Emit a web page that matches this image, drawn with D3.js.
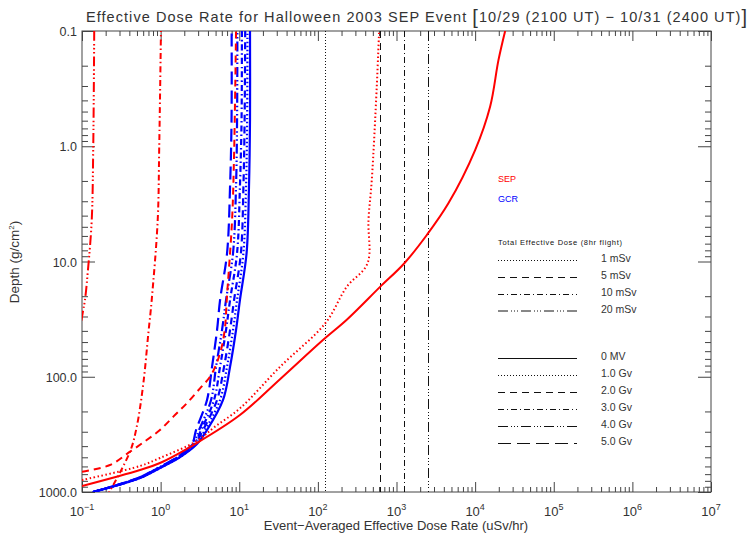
<!DOCTYPE html>
<html>
<head>
<meta charset="utf-8">
<script src="https://cdn.jsdelivr.net/npm/d3@7"></script>
<style>
body { margin: 0; background: #fff; }
text { font-family: "Liberation Sans", "DejaVu Sans", sans-serif; fill: #333; }
</style>
</head>
<body>
<div id="chart"></div>
<script>
// SEP curves (red): event-averaged dose rate (uSv/hr) vs depth (g/cm2), by cutoff rigidity
var sep0mvDose   = [0.1, 0.547, 0.98, 2.88, 10.2, 33, 116, 233, 618, 1250, 2430, 4570, 10000, 15500, 19800, 24100];
var sep0mvDepth  = [887, 644, 560, 376, 215, 105, 48, 32, 16.6, 10.4, 5.89, 3.13, 1.08, 0.454, 0.179, 0.1];
var sep1gvDose   = [0.1, 0.547, 0.98, 2.88, 4.92, 10.2, 33, 124, 233, 427, 440, 485, 561, 601];
var sep1gvDepth  = [787, 595, 507, 361, 271, 188, 82, 34.4, 16.6, 10.4, 4.36, 1.96, 0.304, 0.1];
var sep2gvDose   = [0.1, 0.227, 0.408, 0.665, 0.98, 1.45, 2.15, 3.17, 4.25, 5.17, 5.99, 6.6, 6.93, 8.1, 8.6, 9.1];
var sep2gvDepth  = [667, 583, 447, 354, 290, 222, 170, 126, 100, 76, 55, 37, 21.6, 4.4, 1.15, 0.1];
var sep3gvDose   = [0.206, 0.408, 0.497, 0.603, 0.698, 0.77, 0.918, 0.96, 1.01];
var sep3gvDepth  = [1099, 447, 271, 114, 42, 21.6, 4.37, 1.01, 0.1];
var sep4gvDose   = [0.143, 0.139, 0.133, 0.119, 0.109, 0.102, 0.089];
var sep4gvDepth  = [0.1, 1.01, 4.37, 11.9, 21.6, 28, 48];

// GCR curves (blue), common depth grid
var gcrDepth   = [1000, 757, 619, 497, 383, 290, 159, 81.8, 39.3, 21.6, 8.44, 2.24, 0.59, 0.1];
var gcr0mvDose = [0.138, 0.547, 0.982, 1.77, 2.90, 3.89, 6.22, 7.64, 9.10, 10.2, 12.4, 13.3, 13.7, 13.7];
var gcr1gvDose = [0.138, 0.547, 0.982, 1.77, 2.82, 3.67, 5.70, 7.00, 8.34, 9.38, 11.3, 12.2, 12.6, 12.7];
var gcr2gvDose = [0.138, 0.531, 0.955, 1.71, 2.74, 3.46, 5.22, 6.41, 7.64, 8.59, 10.5, 11.3, 11.7, 11.9];
var gcr3gvDose = [0.138, 0.531, 0.955, 1.66, 2.66, 3.27, 4.78, 5.70, 6.79, 7.64, 9.38, 10.2, 10.7, 10.8];
var gcr4gvDose = [0.138, 0.515, 0.927, 1.66, 2.58, 3.08, 4.38, 5.07, 6.04, 6.79, 8.34, 9.10, 9.38, 9.46];
var gcr5gvDose = [0.138, 0.515, 0.927, 1.62, 2.51, 2.82, 3.89, 4.51, 5.22, 5.70, 7.00, 7.64, 7.98, 8.0];

// total effective dose limits for an 8hr flight, as dose rate
var limitLabels = ["1 mSv", "5 mSv", "10 mSv", "20 mSv"];
var limitRates  = [125, 625, 1250, 2500];

var rigidityLabels = ["0 MV", "1.0 Gv", "2.0 Gv", "3.0 Gv", "4.0 Gv", "5.0 Gv"];

var xTickExp    = [-1, 0, 1, 2, 3, 4, 5, 6, 7];
var yTickValues = [0.1, 1, 10, 100, 1000];
var yTickLabels = ["0.1", "1.0", "10.0", "100.0", "1000.0"];

// line styles: solid, dotted, dashed, dash-dot, dash-dot-dot-dot, long dashes
var dashes = ["none", "1.5,2.5", "7,5", "6,3,1.5,3", "10,3,1.5,2.5,1.5,2.5,1.5,3", "13,6"];
var thinDashes = ["none", "1,2", "7,5", "6,3,1,3", "10,3,1,2,1,2,1,3", "13,6"];

var W = 751, H = 533;
var L = 82, R = 711, T = 31, B = 492;
var axisColor = "#444";

var svg = d3.select("#chart").append("svg")
  .attr("width", W)
  .attr("height", H);

var x = d3.scaleLog().domain([0.1, 1e7]).range([L, R]);
var y = d3.scaleLog().domain([0.1, 1000]).range([T, B]);

svg.append("clipPath").attr("id", "plotclip")
  .append("rect")
  .attr("x", L).attr("y", T)
  .attr("width", R - L).attr("height", B - T);

function isPow10(v) {
  var l = Math.log10(v);
  return Math.abs(l - Math.round(l)) < 1e-9;
}
var xMajor = x.ticks().filter(isPow10);
var xMinor = x.ticks().filter(function(v) { return !isPow10(v); });
var yMajor = y.ticks().filter(isPow10);
var yMinor = y.ticks().filter(function(v) { return !isPow10(v); });

function tickAxis(axis, vals, size, tx, ty) {
  var g = svg.append("g")
    .attr("transform", "translate(" + tx + "," + ty + ")")
    .call(axis.tickValues(vals).tickSizeInner(-size).tickSizeOuter(0).tickFormat(""));
  g.select(".domain").remove();
  g.selectAll("line").attr("stroke", axisColor);
}
tickAxis(d3.axisBottom(x), xMajor, 10, 0, B);
tickAxis(d3.axisBottom(x), xMinor, 5, 0, B);
tickAxis(d3.axisTop(x), xMajor, 10, 0, T);
tickAxis(d3.axisTop(x), xMinor, 5, 0, T);
tickAxis(d3.axisLeft(y), yMajor, 13, L, 0);
tickAxis(d3.axisLeft(y), yMinor, 6, L, 0);
tickAxis(d3.axisRight(y), yMajor, 13, R, 0);
tickAxis(d3.axisRight(y), yMinor, 6, R, 0);

svg.append("rect")
  .attr("x", L).attr("y", T)
  .attr("width", R - L).attr("height", B - T)
  .attr("fill", "none")
  .attr("stroke", axisColor)
  .attr("stroke-width", 1);

// x tick labels 10^n
var xl = svg.selectAll(".xlab")
  .data(xTickExp)
  .enter().append("text")
  .attr("class", "xlab")
  .attr("x", function(d) { return x(Math.pow(10, d)); })
  .attr("y", 516)
  .attr("text-anchor", "middle")
  .style("font-size", "13px");
xl.append("tspan").text("10");
xl.append("tspan")
  .attr("dy", -6)
  .style("font-size", "9px")
  .text(function(d) { return d < 0 ? "\u2212" + (-d) : d; });

// y tick labels
svg.selectAll(".ylab")
  .data(yTickValues)
  .enter().append("text")
  .attr("class", "ylab")
  .attr("x", L - 5)
  .attr("y", function(d) { return y(d) + 5; })
  .attr("text-anchor", "end")
  .style("font-size", "12.5px")
  .text(function(d, i) { return yTickLabels[i]; });

// titles
var title = svg.append("text")
  .attr("x", 86)
  .attr("y", 22)
  .attr("textLength", 661)
  .attr("lengthAdjust", "spacing")
  .style("font-size", "14.5px");
title.append("tspan").text("Effective Dose Rate for Halloween 2003 SEP Event ");
title.append("tspan").style("font-size", "20px").attr("dy", 2).text("[");
title.append("tspan").attr("dy", -2).text("10/29 (2100 UT) \u2212 10/31 (2400 UT)");
title.append("tspan").style("font-size", "20px").attr("dy", 2).text("]");

svg.append("text")
  .attr("x", 396)
  .attr("y", 530)
  .attr("text-anchor", "middle")
  .style("font-size", "13px")
  .text("Event\u2212Averaged Effective Dose Rate (uSv/hr)");

var yt = svg.append("text")
  .attr("transform", "translate(19,262) rotate(-90)")
  .attr("text-anchor", "middle")
  .style("font-size", "13.5px");
yt.append("tspan").text("Depth (g/cm");
yt.append("tspan").attr("dy", -5).style("font-size", "8px").text("2");
yt.append("tspan").attr("dy", 5).text(")");

// dose limit lines
var plot = svg.append("g").attr("clip-path", "url(#plotclip)");

plot.selectAll(".limit")
  .data(limitRates)
  .enter().append("line")
  .attr("class", "limit")
  .attr("x1", function(d) { return Math.round(x(d)) + 0.5; })
  .attr("x2", function(d) { return Math.round(x(d)) + 0.5; })
  .attr("y1", T).attr("y2", B)
  .attr("stroke", "#111")
  .attr("stroke-width", 1)
  .attr("stroke-dasharray", function(d, i) { return thinDashes[i + 1]; });

var line = d3.line()
  .x(function(d) { return x(d[0]); })
  .y(function(d) { return y(d[1]); })
  .curve(d3.curveCatmullRom.alpha(0.5));

function pairs(dose, depth) {
  return dose.map(function(d, i) { return [d, depth[i]]; });
}

var gcrCurves = [gcr0mvDose, gcr1gvDose, gcr2gvDose, gcr3gvDose, gcr4gvDose, gcr5gvDose];
plot.selectAll(".gcr")
  .data(gcrCurves)
  .enter().append("path")
  .attr("class", "gcr")
  .attr("d", function(d) { return line(pairs(d, gcrDepth)); })
  .attr("fill", "none")
  .attr("stroke", "#0000ff")
  .attr("stroke-width", 2.2)
  .attr("stroke-dasharray", function(d, i) { return dashes[i]; });

var sepCurves = [
  pairs(sep0mvDose, sep0mvDepth),
  pairs(sep1gvDose, sep1gvDepth),
  pairs(sep2gvDose, sep2gvDepth),
  pairs(sep3gvDose, sep3gvDepth),
  pairs(sep4gvDose, sep4gvDepth)
];
plot.selectAll(".sep")
  .data(sepCurves)
  .enter().append("path")
  .attr("class", "sep")
  .attr("d", line)
  .attr("fill", "none")
  .attr("stroke", "#ff0000")
  .attr("stroke-width", 2)
  .attr("stroke-dasharray", function(d, i) { return dashes[i]; });

// legend
svg.append("text").attr("x", 498).attr("y", 182)
  .style("font-size", "9px").style("fill", "#ff0000").text("SEP");
svg.append("text").attr("x", 498).attr("y", 202)
  .style("font-size", "9px").style("fill", "#0000ff").text("GCR");
svg.append("text").attr("x", 498).attr("y", 245)
  .attr("textLength", 124)
  .attr("lengthAdjust", "spacing")
  .style("font-size", "7.5px").style("fill", "#111").text("Total Effective Dose (8hr flight)");

var legY1 = [258, 275, 292, 308.5];
var legY2 = [356, 373, 390, 407, 424, 441];

var lg1 = svg.selectAll(".leg1").data(limitLabels).enter().append("g").attr("class", "leg1");
lg1.append("line")
  .attr("x1", 498).attr("x2", 577)
  .attr("y1", function(d, i) { return legY1[i] + 2.5; })
  .attr("y2", function(d, i) { return legY1[i] + 2.5; })
  .attr("stroke", "#111")
  .attr("stroke-dasharray", function(d, i) { return thinDashes[i + 1]; });
lg1.append("text")
  .attr("x", 601)
  .attr("y", function(d, i) { return legY1[i] + 4; })
  .style("font-size", "10.5px")
  .text(function(d) { return d; });

var lg2 = svg.selectAll(".leg2").data(rigidityLabels).enter().append("g").attr("class", "leg2");
lg2.append("line")
  .attr("x1", 498).attr("x2", 577)
  .attr("y1", function(d, i) { return legY2[i] + 2.5; })
  .attr("y2", function(d, i) { return legY2[i] + 2.5; })
  .attr("stroke", "#111")
  .attr("stroke-dasharray", function(d, i) { return thinDashes[i]; });
lg2.append("text")
  .attr("x", 601)
  .attr("y", function(d, i) { return legY2[i] + 4; })
  .style("font-size", "10.5px")
  .text(function(d) { return d; });
</script>
</body>
</html>
